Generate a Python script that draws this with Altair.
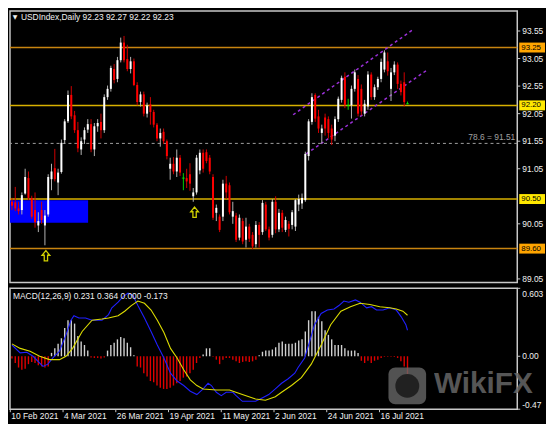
import altair as alt
import pandas as pd

# ---------------- data ----------------
TITLE = "USDIndex,Daily  92.23 92.27 92.22 92.23"
MACD_TITLE = "MACD(12,26,9) 0.231 0.364 0.000 -0.173"

opens = [
    90.45, 90.44, 90.33, 90.30, 90.60, 90.88, 90.52, 90.30, 90.02, 90.30,
    90.02, 90.22, 90.86, 91.06, 90.80, 90.99, 91.57, 91.91, 92.39, 92.02,
    91.75, 91.40, 91.58, 91.76, 91.86, 91.40, 91.82, 91.90, 91.75, 92.35,
    92.50, 92.86, 92.68, 93.02, 93.34, 93.04, 92.86, 93.00, 92.57, 92.26,
    92.40, 92.05, 92.22, 92.08, 91.85, 91.60, 91.72, 91.55, 91.05, 91.14,
    91.00, 91.25, 90.88, 90.88, 90.95, 90.55, 90.62, 91.02, 91.34, 91.35,
    91.25, 90.90, 90.25, 90.18, 90.18, 90.78, 90.75, 90.18, 90.20, 89.80,
    90.10, 89.76, 90.00, 89.85, 89.68, 90.03, 89.90, 90.40, 89.95, 89.85,
    90.45, 89.95, 90.25, 89.94, 90.05, 90.03, 90.00, 90.40, 90.42, 90.48,
    91.28, 91.90, 92.39, 92.00, 91.70, 91.98, 91.95, 91.78, 91.65, 91.95,
    92.30, 92.72, 92.20, 92.20, 92.50, 92.68, 92.50, 92.05, 92.18, 92.76,
    92.35, 92.53, 92.68, 92.85, 93.00, 92.50, 92.80, 92.94, 92.59, 92.62,
    92.23,
]
highs = [
    90.52, 90.72, 90.45, 90.62, 91.05, 91.00, 90.56, 90.62, 90.26, 90.45,
    90.30, 90.95, 91.14, 91.41, 91.05, 91.58, 91.95, 92.47, 92.55, 92.10,
    91.90, 91.62, 91.80, 91.95, 91.95, 91.88, 91.95, 92.05, 92.40, 92.56,
    92.92, 92.95, 93.08, 93.43, 93.46, 93.30, 93.08, 93.05, 92.62, 92.45,
    92.45, 92.25, 92.35, 92.12, 91.88, 91.78, 91.78, 91.58, 91.25, 91.26,
    91.40, 91.30, 90.97, 91.05, 91.15, 90.70, 91.30, 91.40, 91.40, 91.40,
    91.30, 90.95, 90.40, 90.22, 90.85, 90.92, 90.80, 90.45, 90.25, 90.22,
    90.15, 90.16, 90.05, 89.90, 90.10, 90.08, 90.48, 90.45, 90.00, 90.50,
    90.55, 90.32, 90.30, 90.18, 90.10, 90.30, 90.50, 90.58, 90.60, 91.36,
    91.95, 92.42, 92.42, 92.12, 91.85, 92.05, 92.00, 91.85, 92.00, 92.36,
    92.74, 92.80, 92.32, 92.56, 92.85, 92.75, 92.58, 92.30, 92.82, 92.80,
    92.58, 92.72, 93.05, 93.20, 93.16, 92.88, 93.00, 92.98, 92.65, 92.80,
    92.27,
]
lows = [
    90.30, 90.28, 90.22, 90.22, 90.58, 90.48, 90.14, 89.98, 89.90, 90.05,
    89.66, 90.18, 90.66, 90.82, 90.57, 90.96, 91.50, 91.88, 91.95, 91.70,
    91.35, 91.30, 91.50, 91.70, 91.35, 91.28, 91.72, 91.60, 91.70, 92.30,
    92.45, 92.60, 92.62, 92.98, 92.98, 92.82, 92.78, 92.55, 92.20, 92.18,
    92.00, 91.98, 91.85, 91.80, 91.55, 91.45, 91.50, 91.22, 90.85, 90.95,
    90.90, 90.92, 90.66, 90.70, 90.65, 90.45, 90.58, 90.95, 90.98, 91.15,
    90.95, 90.12, 90.10, 89.90, 90.10, 90.50, 90.22, 90.05, 89.72, 89.75,
    89.68, 89.62, 89.72, 89.59, 89.62, 89.62, 89.85, 89.92, 89.75, 89.80,
    89.88, 89.90, 89.90, 89.90, 89.82, 89.95, 89.92, 90.28, 90.32, 90.45,
    91.20, 91.85, 91.90, 91.70, 91.51, 91.65, 91.60, 91.48, 91.55, 91.90,
    92.25, 92.15, 92.12, 91.96, 92.45, 92.00, 92.02, 92.00, 92.12, 92.30,
    92.30, 92.48, 92.62, 92.80, 92.74, 92.28, 92.75, 92.50, 92.38, 92.18,
    92.22,
]
closes = [
    90.38, 90.33, 90.28, 90.57, 90.90, 90.52, 90.18, 90.08, 90.10, 90.12,
    90.20, 90.90, 91.00, 90.86, 90.98, 91.52, 91.91, 92.39, 92.00, 91.75,
    91.42, 91.55, 91.75, 91.86, 91.40, 91.82, 91.88, 91.75, 92.35, 92.50,
    92.88, 92.66, 93.02, 93.34, 93.02, 92.86, 93.00, 92.57, 92.26, 92.40,
    92.05, 92.20, 92.08, 91.85, 91.60, 91.70, 91.55, 91.28, 91.14, 91.00,
    91.25, 90.98, 90.88, 90.82, 90.78, 90.62, 91.25, 91.34, 91.05, 91.19,
    91.00, 90.16, 90.34, 89.94, 90.78, 90.62, 90.26, 90.28, 89.76, 90.16,
    89.73, 90.00, 89.78, 89.64, 90.03, 89.85, 90.43, 89.95, 89.80, 90.45,
    89.95, 90.25, 89.98, 90.12, 89.96, 90.26, 90.48, 90.50, 90.52, 91.32,
    91.91, 92.35, 91.96, 91.78, 91.78, 91.78, 91.70, 91.58, 91.95, 92.32,
    92.70, 92.21, 92.20, 92.50, 92.80, 92.05, 92.09, 92.23, 92.76, 92.35,
    92.53, 92.68, 92.99, 93.16, 92.82, 92.80, 92.94, 92.59, 92.44, 92.26,
    92.23,
]

hist = [
    -0.02, -0.06, -0.10, -0.12, -0.11, -0.07, -0.05, -0.06, -0.08, -0.09,
    -0.10, -0.09, 0.03, 0.07, 0.11, 0.16, 0.25, 0.32, 0.32, 0.29,
    0.18, 0.13, 0.10, 0.05, -0.01, -0.015, -0.015, -0.02, -0.01, 0.05,
    0.10, 0.12, 0.15, 0.17, 0.16, 0.12, 0.08, 0.01, -0.09, -0.10,
    -0.15, -0.18, -0.22, -0.23, -0.26, -0.28, -0.29, -0.29, -0.28, -0.26,
    -0.24, -0.22, -0.19, -0.18, -0.15, -0.12, -0.06, -0.015, 0.015, 0.07,
    0.07, -0.005, -0.03, -0.07, -0.03, -0.015, -0.015, -0.03, -0.045, -0.06,
    -0.05, -0.045, -0.05, -0.045, -0.03, 0.01, 0.04, 0.05, 0.05, 0.06,
    0.08, 0.12, 0.13, 0.11, 0.11, 0.11, 0.12, 0.14, 0.15, 0.22,
    0.32, 0.40, 0.40, 0.35, 0.31, 0.23, 0.19, 0.15, 0.10, 0.10,
    0.10, 0.07, 0.05, 0.05, 0.05, 0.03, -0.04, -0.06, -0.04, -0.06,
    -0.04, -0.03, -0.015, -0.005, -0.005, -0.005, -0.006, -0.015, -0.045, -0.09,
    -0.173,
]

macd_idx = [0, 2.5, 4.5, 6.4, 9.4, 10.9, 12.4, 14.4, 16.4, 17.9, 18.8, 20.3,
            22.3, 24.3, 27.3, 29.3, 30.3, 32.2, 33.7, 35.2, 36.7, 38.2, 40.2,
            42.2, 44.1, 46.1, 48.1, 50.1, 52.1, 54.1, 56.1, 58.0, 59.5, 60.5,
            62.0, 63.5, 65.0, 67.0, 68.0, 69.9, 71.9, 73.9, 75.9, 77.9, 79.9,
            81.8, 83.8, 85.8, 86.8, 88.8, 90.3, 91.8, 93.8, 95.7, 97.7, 99.2,
            100.7, 102.2, 104.2, 105.6, 107.6, 109.1, 110.6, 112.6, 114.6,
            116.6, 118.1, 119.5, 120]
macd_val = [0.10, 0.03, 0.035, 0.0, -0.09, -0.07, -0.015, 0.044, 0.19, 0.32,
            0.36, 0.34, 0.34, 0.32, 0.32, 0.37, 0.43, 0.48, 0.53, 0.56, 0.54,
            0.45, 0.34, 0.22, 0.10, -0.015, -0.15, -0.22, -0.26, -0.31, -0.34,
            -0.29, -0.24, -0.26, -0.32, -0.35, -0.32, -0.32, -0.35, -0.40,
            -0.40, -0.40, -0.37, -0.34, -0.29, -0.24, -0.20, -0.15, -0.10,
            -0.015, 0.13, 0.28, 0.38, 0.41, 0.42, 0.45, 0.49, 0.48, 0.50, 0.48,
            0.43, 0.44, 0.41, 0.41, 0.43, 0.41, 0.35, 0.28, 0.231]

sig_idx = [0, 2.5, 5.5, 8.4, 11.4, 14.4, 16.4, 18.4, 21.3, 24.3, 27.3, 29.3,
           32.2, 34.2, 36.2, 38.2, 40.2, 42.2, 44.1, 46.1, 48.1, 50.1, 52.1,
           54.1, 56.1, 58.0, 62.0, 66.0, 69.9, 73.9, 76.9, 79.9, 81.8, 84.8,
           87.8, 90.8, 93.8, 96.7, 99.8, 102.7, 105.6, 108.6, 111.6, 114.6,
           116.6, 118.6, 120]
sig_val = [0.11, 0.07, 0.044, 0.0, -0.03, -0.03, 0.0, 0.07, 0.22, 0.32, 0.33,
           0.34, 0.36, 0.40, 0.45, 0.49, 0.47, 0.41, 0.32, 0.21, 0.07, -0.015,
           -0.12, -0.21, -0.26, -0.29, -0.30, -0.30, -0.34, -0.38, -0.39,
           -0.36, -0.32, -0.26, -0.19, -0.07, 0.10, 0.28, 0.40, 0.44, 0.47,
           0.46, 0.44, 0.43, 0.42, 0.40, 0.364]

level_prices = [93.25, 92.20, 90.50, 89.60]
level_labels = ["93.25", "92.20", "90.50", "89.60"]
level_kinds = ["orange", "yellow", "yellow", "orange"]

fib_price = 91.51
fib_text = "78.6 = 91.51"

zone_i = [-0.6, 23.1]
zone_p = [90.07, 90.48]

arrow_idx = [10.3, 55.4]
arrow_price = [89.47, 90.26]

chan_upper_i = [85.3, 122.0]
chan_upper_p = [92.03, 93.59]
chan_lower_i = [89.3, 125.9]
chan_lower_p = [91.32, 92.84]

price_ticks = [93.55, 93.05, 92.55, 92.05, 91.55, 91.05, 90.05, 89.05]
date_pos = [-0.5, 15.5, 31.5, 47.5, 63.5, 79.5, 95.5, 111.5]
date_labels = ["10 Feb 2021", "4 Mar 2021", "26 Mar 2021", "19 Apr 2021",
               "11 May 2021", "2 Jun 2021", "24 Jun 2021", "16 Jul 2021"]
macd_ticks = [0.603, 0.0, -0.47]
macd_tick_labels = ["0.603", "0.00", "-0.47"]

# ---------------- layout / style ----------------
W, H1, H2 = 512, 274, 122
XDOM = [-0.6, 153.3]
PDOM = [88.987, 93.915]
MDOM = [-0.47, 0.603]
FONT = "Liberation Sans"
TXT = "#f0f0f0"
GRAY = "#c8c8c8"
FS = 8.5

LINE_COL = {"orange": "#c88410", "yellow": "#d8b000"}
FILL_COL = {"orange": "#ffa500", "yellow": "#ffe800"}

xs = alt.Scale(domain=XDOM, nice=False, zero=False, padding=0)
ps = alt.Scale(domain=PDOM, nice=False, zero=False, padding=0)
ms = alt.Scale(domain=MDOM, nice=False, zero=False, padding=0)

X = lambda f: alt.X(f, scale=xs, axis=None)
Yp = lambda f: alt.Y(f, scale=ps, axis=None)
Ym = lambda f: alt.Y(f, scale=ms, axis=None)

rows = []
for i in range(len(closes)):
    o, h, l, c = opens[i], highs[i], lows[i], closes[i]
    if c > o:
        bc, wc, kind = "#ffffff", "#b4b4b4", "up"
    elif c < o:
        bc, wc, kind = "#ff0000", "#d00000", "down"
    else:
        bc, wc, kind = "#00ff00", "#00d000", "doji"
    rows.append(dict(i=i, o=o, h=h, l=l, c=c, bc=bc, wc=wc, kind=kind))
cdf = pd.DataFrame(rows)
doji_df = cdf[cdf["kind"] == "doji"]

lev_df = pd.DataFrame({
    "p": level_prices,
    "lab": level_labels,
    "lc": [LINE_COL[k] for k in level_kinds],
    "fc": [FILL_COL[k] for k in level_kinds],
})
lev_df["lo"] = lev_df["p"] - 0.09
lev_df["hi"] = lev_df["p"] + 0.09

# ---------------- main (price) panel ----------------
zone = alt.Chart(pd.DataFrame({"i0": [zone_i[0]], "i1": [zone_i[1]],
                               "p0": [zone_p[0]], "p1": [zone_p[1]]})).mark_rect(
    color="#0000ff").encode(x=X("i0:Q"), x2="i1:Q", y=Yp("p0:Q"), y2="p1:Q")

levels = alt.Chart(lev_df).mark_rule(strokeWidth=1.5).encode(
    y=Yp("p:Q"), color=alt.Color("lc:N", scale=None))

fib = alt.Chart(pd.DataFrame({"p": [fib_price], "t": [fib_text]}))
fib_line = fib.mark_rule(color="#a0a0a0", strokeDash=[3, 3], strokeWidth=1).encode(y=Yp("p:Q"))
fib_lab = fib.mark_text(align="right", baseline="bottom", dy=-1, color="#a0a0a0",
                        font=FONT, fontSize=FS).encode(
    x=alt.value(W - 2), y=Yp("p:Q"), text="t:N")

chan_df = pd.DataFrame({
    "i": chan_upper_i + chan_lower_i,
    "p": chan_upper_p + chan_lower_p,
    "g": ["u", "u", "l", "l"],
})
channel = alt.Chart(chan_df).mark_line(color="#9b30d8", strokeDash=[3, 3],
                                       strokeWidth=1.5).encode(
    x=X("i:Q"), y=Yp("p:Q"), detail="g:N")

wicks = alt.Chart(cdf).mark_rule(strokeWidth=1).encode(
    x=X("i:Q"), y=Yp("l:Q"), y2="h:Q", color=alt.Color("wc:N", scale=None))
bodies = alt.Chart(cdf).mark_bar(size=2).encode(
    x=X("i:Q"), y=Yp("o:Q"), y2="c:Q", color=alt.Color("bc:N", scale=None))
dojis = alt.Chart(doji_df).mark_tick(orient="horizontal", size=3, thickness=1,
                                     color="#00ff00").encode(x=X("i:Q"), y=Yp("c:Q"))

ARROW = "M0,-1L0.75,-0.1L0.32,-0.1L0.32,1L-0.32,1L-0.32,-0.1L-0.75,-0.1Z"
arrows = alt.Chart(pd.DataFrame({"i": arrow_idx, "p": arrow_price})).mark_point(
    shape=ARROW, filled=False, color="#d0d000", strokeWidth=1.3, size=110,
    opacity=1).encode(x=X("i:Q"), y=Yp("p:Q"))

# price scale on the right (ticks + labels)
pt_df = pd.DataFrame({"p": price_ticks, "t": [f"{v:.2f}" for v in price_ticks]})
p_ticks = alt.Chart(pt_df).mark_rule(color=GRAY, strokeWidth=1).encode(
    x=alt.value(W), x2=alt.value(W + 3), y=Yp("p:Q"))
p_labels = alt.Chart(pt_df).mark_text(align="left", baseline="middle", color=TXT,
                                      font=FONT, fontSize=FS).encode(
    x=alt.value(W + 5), y=Yp("p:Q"), text="t:N")

boxes = alt.Chart(lev_df).mark_rect().encode(
    x=alt.value(W + 2), x2=alt.value(W + 28), y=Yp("lo:Q"), y2="hi:Q",
    color=alt.Color("fc:N", scale=None))
box_txt = alt.Chart(lev_df).mark_text(align="left", baseline="middle", color="#000000",
                                      font=FONT, fontSize=8).encode(
    x=alt.value(W + 4), y=Yp("p:Q"), text="lab:N")

tdf = pd.DataFrame({"t": [TITLE], "m": ["\u25bc"]})
title_txt = alt.Chart(tdf).mark_text(align="left", baseline="middle", color=TXT,
                                     font=FONT, fontSize=FS).encode(
    x=alt.value(11), y=alt.value(6), text="t:N")
title_tri = alt.Chart(tdf).mark_text(align="center", baseline="middle", color=TXT,
                                     font="DejaVu Sans", fontSize=6).encode(
    x=alt.value(5), y=alt.value(6), text="m:N")

main = alt.layer(zone, levels, fib_line, fib_lab, channel, wicks, bodies, dojis,
                 arrows, p_ticks, p_labels, boxes, box_txt, title_txt,
                 title_tri).properties(width=W, height=H1)

# ---------------- MACD panel ----------------
hdf = pd.DataFrame({"i": list(range(len(hist))), "v": hist})
hdf["z"] = 0.0
hdf["hc"] = ["#d0d0d0" if v > 0 else "#e00000" for v in hist]

histo = alt.Chart(hdf).mark_bar(size=1.4).encode(
    x=X("i:Q"), y=Ym("v:Q"), y2="z:Q", color=alt.Color("hc:N", scale=None))
blue = alt.Chart(pd.DataFrame({"i": macd_idx, "v": macd_val})).mark_line(
    color="#2020ff", strokeWidth=1.1).encode(x=X("i:Q"), y=Ym("v:Q"))
yellow = alt.Chart(pd.DataFrame({"i": sig_idx, "v": sig_val})).mark_line(
    color="#dcdc00", strokeWidth=1.1).encode(x=X("i:Q"), y=Ym("v:Q"))

# MACD scale labels (top one hangs below the top edge, bottom one sits above)
m_layers = []
for v, lab, dy in zip(macd_ticks, macd_tick_labels, [6, 0, -4]):
    d = pd.DataFrame({"v": [v], "t": [lab]})
    m_layers.append(alt.Chart(d).mark_rule(color=GRAY).encode(
        x=alt.value(W), x2=alt.value(W + 3), y=Ym("v:Q")))
    m_layers.append(alt.Chart(d).mark_text(align="left", baseline="middle", dy=dy,
                                           color=TXT, font=FONT, fontSize=FS).encode(
        x=alt.value(W + 5), y=Ym("v:Q"), text="t:N"))

# date scale at the bottom
dd = pd.DataFrame({"i": date_pos, "t": date_labels})
d_ticks = alt.Chart(dd).mark_rule(color=GRAY).encode(
    x=X("i:Q"), y=alt.value(H2), y2=alt.value(H2 + 3))
d_labels = alt.Chart(dd).mark_text(align="left", baseline="middle", dx=1, color=TXT,
                                   font=FONT, fontSize=FS).encode(
    x=X("i:Q"), y=alt.value(H2 + 7), text="t:N")

mdf = pd.DataFrame({"t": [MACD_TITLE], "w": ["WikiFX"]})
macd_txt = alt.Chart(mdf).mark_text(align="left", baseline="middle", color=TXT,
                                    font=FONT, fontSize=FS).encode(
    x=alt.value(3), y=alt.value(8), text="t:N")
logo_box = alt.Chart(mdf).mark_rect(cornerRadius=7, color="#666666", opacity=0.8).encode(
    x=alt.value(382), x2=alt.value(420), y=alt.value(80), y2=alt.value(117))
logo_in = alt.Chart(mdf).mark_point(filled=True, shape="circle", size=580,
                                    color="#1c1c1c", opacity=0.9).encode(
    x=alt.value(401), y=alt.value(98.5))
logo_txt = alt.Chart(mdf).mark_text(align="left", baseline="middle", color="#666666",
                                    opacity=0.85, font=FONT, fontSize=30,
                                    fontWeight="bold").encode(
    x=alt.value(428), y=alt.value(97), text="w:N")

macd = alt.layer(histo, blue, yellow, *m_layers, d_ticks, d_labels, macd_txt,
                 logo_box, logo_in, logo_txt).properties(width=W, height=H2)

chart = alt.vconcat(main, macd, spacing=2).properties(
    padding={"left": 0, "top": 0, "right": 0, "bottom": 0},
    background="#000000",
).configure_view(stroke=GRAY, strokeWidth=1.5, fill="#000000")

chart.save("out.html", embed_options={"renderer": "svg", "actions": False})
